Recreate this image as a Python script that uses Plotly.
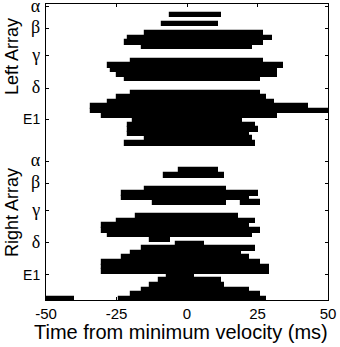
import plotly.graph_objects as go

# each bar = one row of the raster: row index (top = 0), start and end time (ms)
ROWS = [2, 4, 6, 7, 8, 9, 12, 13, 14, 15, 16,
        19, 20, 21, 22, 23, 24, 25, 26, 27, 28, 29, 30,
        36, 37, 40, 41, 42, 43, 43,
        46, 47, 48, 49, 50, 51,
        52, 53, 54, 55, 56, 57, 58, 59, 60, 61, 62, 63, 64, 64]
STARTS = [-6, -9, -15, -21, -22, -16, -20, -28, -27, -25, -22,
          -20, -25, -28, -34, -34, -30, -19, -21, -21, -21, -15, -22,
          -3, -8, -15, -23, -23, -12, 19,
          -18, -25, -30, -30, -28, -13,
          -4, -16, -20, -23, -30, -30, -30, -7, -10, -13, -16, -20, -24, -50]
ENDS = [12, 11, 27, 30, 27, 23, 27, 34, 32, 32, 26,
        26, 28, 31, 43, 50, 32, 19.5, 24, 25, 22, 23, 24,
        11, 13, 14, 25, 22, 14, 26,
        18, 24, 22, 26, 23, -6,
        6, 24, 19, 22, 26, 29, 29, 2.5, 12, 13, 22, 26, 28, -40]

TICK_POS = [0.75, 5.41, 11.45, 18.5, 25.27, 34.38, 39.25, 45.23, 52.22, 59.27]
TICK_NAMES = ["α", "β", "γ", "δ", "E1", "α", "β", "γ", "δ", "E1"]
X_TICKS = [-50, -25, 0, 25, 50]


def greek(label):
    if label.startswith("E"):
        return label
    return "<span style='font-family:Liberation Serif;font-size:18px'>" + label + "</span>"


fig = go.Figure(
    go.Bar(
        x=[e - s for s, e in zip(STARTS, ENDS)],
        base=STARTS,
        y=[r + 0.5 for r in ROWS],
        orientation="h",
        width=1.0,
        marker={"color": "black", "line": {"color": "black", "width": 1.2}},
        showlegend=False,
        hoverinfo="skip",
    )
)

fig.update_layout(
    width=340,
    height=347,
    margin={"l": 46, "r": 12, "t": 4, "b": 47},
    paper_bgcolor="white",
    plot_bgcolor="white",
    font={"family": "Liberation Sans, Arial, sans-serif", "color": "black", "size": 15},
    bargap=0,
    annotations=[
        {"text": "Left Array", "x": -0.1206, "y": 0.824, "xref": "paper", "yref": "paper",
         "xanchor": "center", "yanchor": "middle",
         "textangle": -90, "showarrow": False, "font": {"size": 18}},
        {"text": "Right Array", "x": -0.1206, "y": 0.297, "xref": "paper", "yref": "paper",
         "xanchor": "center", "yanchor": "middle",
         "textangle": -90, "showarrow": False, "font": {"size": 18}},
        {"text": "Time from minimum velocity (ms)", "x": 0.478, "y": -0.108, "xref": "paper",
         "yref": "paper", "xanchor": "center", "yanchor": "middle",
         "showarrow": False, "font": {"size": 20}},
    ],
)
fig.update_xaxes(
    range=[-50, 50], tickvals=X_TICKS, ticktext=[str(v) for v in X_TICKS],
    ticks="inside", ticklen=3, tickcolor="black", showgrid=False, zeroline=False,
    showline=True, linecolor="black", linewidth=1, mirror="ticks",
    tickfont={"size": 15}, ticklabeloverflow="allow", automargin=False,
)
fig.update_yaxes(
    range=[64.73, 0.1], tickvals=TICK_POS, ticktext=[greek(t) for t in TICK_NAMES],
    ticks="inside", ticklen=3, tickcolor="black", showgrid=False, zeroline=False,
    showline=True, linecolor="black", linewidth=1, mirror="ticks",
    tickfont={"size": 14}, ticklabeloverflow="allow", automargin=False,
    ticklabelstandoff=2,
)

fig.write_html(
    "out.html",
    config={"displayModeBar": False},
    post_script="document.body.style.margin='0';document.body.style.padding='0';",
)
